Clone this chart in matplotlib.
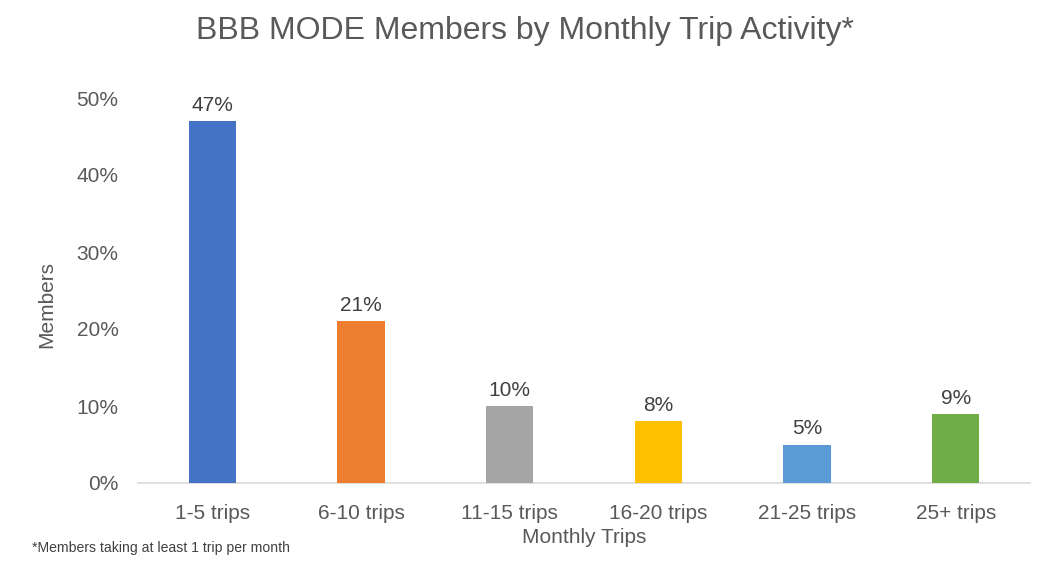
import matplotlib
matplotlib.use("Agg")
import matplotlib.pyplot as plt
from matplotlib.ticker import FuncFormatter

plt.rcParams['font.family'] = ['Liberation Sans', 'DejaVu Sans']

categories = ["1-5 trips", "6-10 trips", "11-15 trips", "16-20 trips", "21-25 trips", "25+ trips"]
values = [47, 21, 10, 8, 5, 9]
colors = ["#4472C4", "#ED7D31", "#A5A5A5", "#FFC000", "#5B9BD5", "#70AD47"]
yticks = [0, 10, 20, 30, 40, 50]

TXT = "#595959"

fig = plt.figure(figsize=(10.49, 5.66), dpi=100)
ax = fig.add_axes([138/1049, 1-483/566, (1030-138)/1049, (483-98)/566])

x = list(range(len(categories)))
bars = ax.bar(x, values, width=0.32, color=colors, zorder=3)
for xi, v in zip(x, values):
    ax.text(xi, v + 0.8, f"{v}%", ha="center", va="bottom", fontsize=15, color="#404040")

ax.set_xlim(-0.5, len(categories) - 0.5)
ax.set_ylim(0, 50)
ax.set_yticks(yticks)
ax.yaxis.set_major_formatter(FuncFormatter(lambda v, p: f"{int(v)}%"))
ax.set_xticks(x)
ax.set_xticklabels(categories)
ax.tick_params(axis='y', length=0, labelsize=15, colors=TXT, pad=14)
ax.tick_params(axis='x', length=0, labelsize=15, colors=TXT, pad=15)

for s in ['top', 'right', 'left']:
    ax.spines[s].set_visible(False)
ax.spines['bottom'].set_color("#D9D9D9")
ax.spines['bottom'].set_linewidth(1.2)

ax.set_xlabel("Monthly Trips", fontsize=15, color=TXT, labelpad=4)
ax.set_ylabel("Members", fontsize=15, color=TXT, va="center")
ax.yaxis.set_label_coords((46.5 - 138) / 892, (483 - 305) / 385)

fig.text(0.5, 1-31/566, "BBB MODE Members by Monthly Trip Activity*", ha="center", va="center",
         fontsize=23, color=TXT)
fig.text(32/1049, 1-548/566, "*Members taking at least 1 trip per month", ha="left", va="center",
         fontsize=10.1, color="#404040")

fig.savefig("out.png", dpi=100)
